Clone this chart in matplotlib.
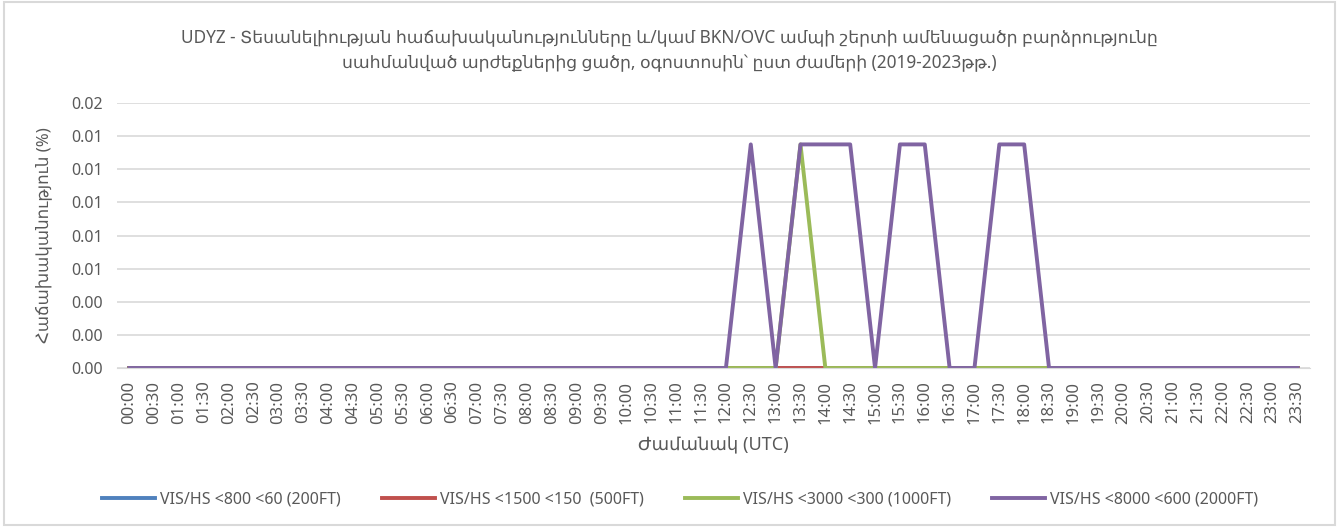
import numpy as np
import matplotlib.pyplot as plt
from matplotlib.patches import Rectangle
from matplotlib.ticker import FuncFormatter

plt.rcParams['font.family'] = ['Noto Sans', 'DejaVu Sans']

times = ["%02d:%02d" % (h, m) for h in range(24) for m in (0, 30)]

peak = 0.0135
vis800 = [0.0] * 48
vis1500 = [0.0] * 48
vis3000 = [0.0] * 48
vis3000[27] = peak
vis8000 = [0.0] * 48
for i in [25, 27, 28, 29, 31, 32, 35, 36]:
    vis8000[i] = peak

series = [
    ("VIS/HS <800 <60 (200FT)", vis800, "#4F81BD"),
    ("VIS/HS <1500 <150  (500FT)", vis1500, "#C0504D"),
    ("VIS/HS <3000 <300 (1000FT)", vis3000, "#9BBB59"),
    ("VIS/HS <8000 <600 (2000FT)", vis8000, "#8064A2"),
]

txt = "#595959"
fig = plt.figure(figsize=(13.39, 5.27), dpi=100)
ax = fig.add_axes([117 / 1339, 1 - 368 / 527, (1310 - 117) / 1339, (368 - 103) / 527])

x = np.arange(len(times))
for name, vals, col in series:
    ax.plot(x, vals, color=col, lw=2.8, label=name, solid_joinstyle='round')

ax.set_xlim(-0.5, len(times) - 0.5)
ax.set_ylim(0, 0.016)
ax.set_yticks(np.arange(0, 0.0161, 0.002))
ax.yaxis.set_major_formatter(FuncFormatter(lambda v, p: "%.2f" % v))
ax.set_xticks(x)
ax.set_xticklabels(times, rotation=90)
ax.grid(axis='y', color='#D9D9D9', lw=1.2)
ax.set_axisbelow(True)
for s in ['top', 'right', 'left']:
    ax.spines[s].set_visible(False)
ax.spines['bottom'].set_color('#D9D9D9')
ax.tick_params(axis='y', length=0, labelsize=11.5, colors=txt, pad=10)
ax.tick_params(axis='x', length=0, labelsize=12, colors=txt, pad=9)

ax.set_ylabel("Հաճախականություն (%)", fontsize=12, color=txt, labelpad=14)
ax.set_xlabel("Ժամանակ (UTC)", fontsize=13, color=txt, labelpad=9)

fig.text(0.5, 1 - 50 / 527,
         "UDYZ - Տեսանելիության հաճախականությունները և/կամ BKN/OVC ամպի շերտի ամենացածր բարձրությունը\n"
         "սահմանված արժեքներից ցածր, օգոստոսին՝ ըստ ժամերի (2019-2023թթ.)",
         ha='center', va='center', fontsize=12.4, color=txt, linespacing=1.6)

fig.legend(loc='center', bbox_to_anchor=(0.508, 1 - 500 / 527), ncol=4, frameon=False,
           fontsize=11.5, labelcolor=txt, handlelength=3.3, columnspacing=2.6, handletextpad=0.3)

fig.patches.append(Rectangle((4 / 1339, 2 / 527), 1 - 8 / 1339, 1 - 4 / 527, transform=fig.transFigure,
                             fill=False, edgecolor='#D9D9D9', lw=1.5))

fig.savefig("out.png", dpi=100)
